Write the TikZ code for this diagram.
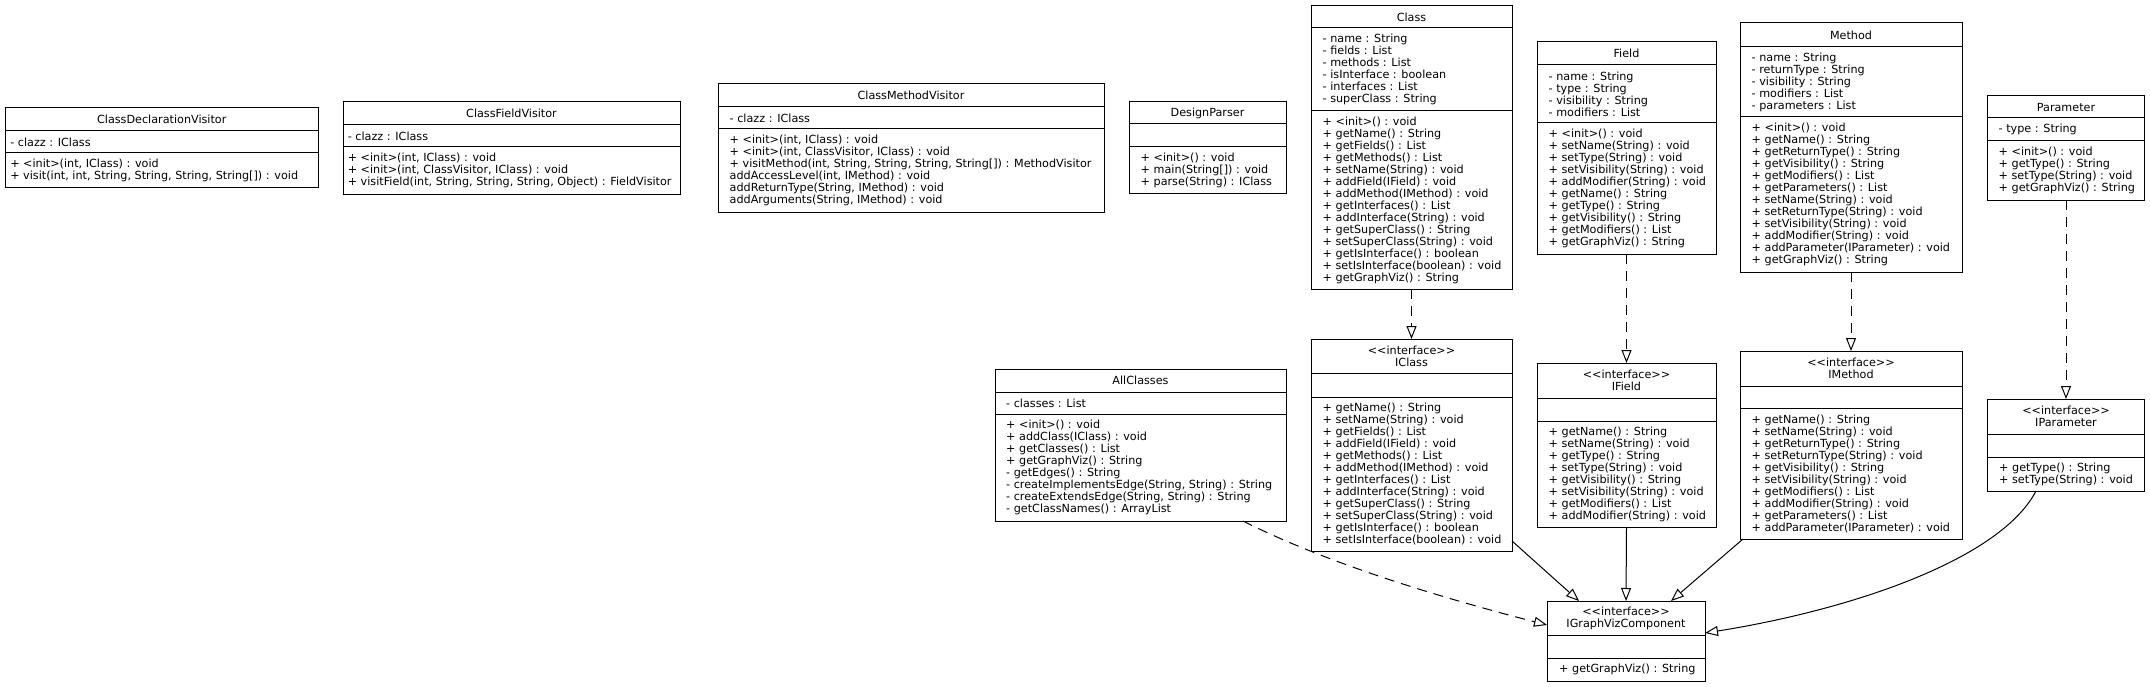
\documentclass[tikz,border=0pt]{standalone}
\usepackage{fontspec}
\setmainfont{DejaVu Sans}[Ligatures=TeXOff]
\usetikzlibrary{arrows.meta}
\newcommand\umlfont{\fontsize{11.2bp}{12bp}\selectfont}
\newcommand\lgl{<\kern0pt<}
\newcommand\rgl{>\kern0pt>}
\newcommand\stereo{\lgl interface\rgl}
% #1 name, #2 x1, #3 y1, #4 x2, #5 y2, #6 divider 1, #7 divider 2, #8 title
\newcommand\umlbox[8]{%
  \node[umlframe, anchor=north west, minimum width={(#4-#2)*1bp}, minimum height={(#5-#3)*1bp}] (#1) at (#2,#3) {};
  \draw[umlline] (#2,#6) -- (#4,#6);
  \draw[umlline] (#2,#7) -- (#4,#7);
  \node[umltitle] (#1-t) at ({(#2+#4)/2},{(#3+#6)/2}) {#8};
  \gdef\uname{#1}\gdef\ux{#2}\gdef\uda{#6}\gdef\udb{#7}\gdef\uy{#5}%
}
% #1 indent, #2 text
\newcommand\umlattr[2]{\node[umltext, anchor=west] (\uname-a) at ({\ux+#1},{(\uda+\udb)/2}) {#2};}
\newcommand\umlmeth[2]{\node[umltext, anchor=west] (\uname-m) at ({\ux+#1},{(\udb+\uy)/2}) {#2};}
\begin{document}
\begin{tikzpicture}[x=1bp, y=-1bp,
  umlframe/.style={draw, line width=1bp, inner sep=0pt, outer sep=0pt, fill=white},
  umlline/.style={line width=1bp},
  umltext/.style={inner sep=0pt, align=left, font=\umlfont},
  umltitle/.style={inner sep=0pt, align=center, font=\umlfont},
  opentip/.style={-{Triangle[open, length=13bp, width=10bp, fill=white, line width=1bp]}},
  realize/.style={opentip, line width=1bp, dash pattern=on 10bp off 7bp},
  general/.style={opentip, line width=1bp}]
\useasboundingbox (0,0) rectangle (2150,687);
\fill[white] (0,0) rectangle (2150,687);

% ---------- ClassDeclarationVisitor ----------
\umlbox{CDV}{5.5}{108}{318}{188}{131}{153}{ClassDeclarationVisitor}
\umlattr{4.6}{- clazz : IClass}
\umlmeth{4.6}{+ <init>(int, IClass) : void\\+ visit(int, int, String, String, String, String[]) : void}

% ---------- ClassFieldVisitor ----------
\umlbox{CFV}{343}{102}{680}{194}{125}{147}{ClassFieldVisitor}
\umlattr{4.6}{- clazz : IClass}
\umlmeth{4.6}{+ <init>(int, IClass) : void\\+ <init>(int, ClassVisitor, IClass) : void\\+ visitField(int, String, String, String, Object) : FieldVisitor}

% ---------- ClassMethodVisitor ----------
\umlbox{CMV}{718}{84}{1104}{212}{107}{129}{ClassMethodVisitor}
\umlattr{11.5}{- clazz : IClass}
\umlmeth{11.5}{+ <init>(int, IClass) : void\\+ <init>(int, ClassVisitor, IClass) : void\\+ visitMethod(int, String, String, String, String[]) : MethodVisitor\\addAccessLevel(int, IMethod) : void\\addReturnType(String, IMethod) : void\\addArguments(String, IMethod) : void}

% ---------- DesignParser ----------
\umlbox{DP}{1129}{102}{1286}{193}{124}{147}{DesignParser}
\umlmeth{11.5}{+ <init>() : void\\+ main(String[]) : void\\+ parse(String) : IClass}

% ---------- Class ----------
\umlbox{Cls}{1311}{6}{1512}{289}{28}{111}{Class}
\umlattr{11.5}{- name : String\\- fields : List\\- methods : List\\- isInterface : boolean\\- interfaces : List\\- superClass : String}
\umlmeth{11.5}{+ <init>() : void\\+ getName() : String\\+ getFields() : List\\+ getMethods() : List\\+ setName(String) : void\\+ addField(IField) : void\\+ addMethod(IMethod) : void\\+ getInterfaces() : List\\+ addInterface(String) : void\\+ getSuperClass() : String\\+ setSuperClass(String) : void\\+ getIsInterface() : boolean\\+ setIsInterface(boolean) : void\\+ getGraphViz() : String}

% ---------- Field ----------
\umlbox{Fld}{1537}{42}{1716}{254}{65}{123}{Field}
\umlattr{11.5}{- name : String\\- type : String\\- visibility : String\\- modifiers : List}
\umlmeth{11.5}{+ <init>() : void\\+ setName(String) : void\\+ setType(String) : void\\+ setVisibility(String) : void\\+ addModifier(String) : void\\+ getName() : String\\+ getType() : String\\+ getVisibility() : String\\+ getModifiers() : List\\+ getGraphViz() : String}

% ---------- Method ----------
\umlbox{Mth}{1740}{23}{1962}{272}{47}{117}{Method}
\umlattr{11.5}{- name : String\\- returnType : String\\- visibility : String\\- modifiers : List\\- parameters : List}
\umlmeth{11.5}{+ <init>() : void\\+ getName() : String\\+ getReturnType() : String\\+ getVisibility() : String\\+ getModifiers() : List\\+ getParameters() : List\\+ setName(String) : void\\+ setReturnType(String) : void\\+ setVisibility(String) : void\\+ addModifier(String) : void\\+ addParameter(IParameter) : void\\+ getGraphViz() : String}

% ---------- Parameter ----------
\umlbox{Par}{1987.5}{96}{2144.5}{200}{118}{141}{Parameter}
\umlattr{11}{- type : String}
\umlmeth{11}{+ <init>() : void\\+ getType() : String\\+ setType(String) : void\\+ getGraphViz() : String}

% ---------- AllClasses ----------
\umlbox{All}{995}{369}{1286}{521}{392}{414}{AllClasses}
\umlattr{11}{- classes : List}
\umlmeth{11}{+ <init>() : void\\+ addClass(IClass) : void\\+ getClasses() : List\\+ getGraphViz() : String\\- getEdges() : String\\- createImplementsEdge(String, String) : String\\- createExtendsEdge(String, String) : String\\- getClassNames() : ArrayList}

% ---------- IClass ----------
\umlbox{ICls}{1311}{339}{1512}{551}{373}{397}{\stereo\\IClass}
\umlmeth{11.5}{+ getName() : String\\+ setName(String) : void\\+ getFields() : List\\+ addField(IField) : void\\+ getMethods() : List\\+ addMethod(IMethod) : void\\+ getInterfaces() : List\\+ addInterface(String) : void\\+ getSuperClass() : String\\+ setSuperClass(String) : void\\+ getIsInterface() : boolean\\+ setIsInterface(boolean) : void}

% ---------- IField ----------
\umlbox{IFld}{1537}{363}{1716}{527}{398}{421}{\stereo\\IField}
\umlmeth{11.5}{+ getName() : String\\+ setName(String) : void\\+ getType() : String\\+ setType(String) : void\\+ getVisibility() : String\\+ setVisibility(String) : void\\+ getModifiers() : List\\+ addModifier(String) : void}

% ---------- IMethod ----------
\umlbox{IMth}{1740}{351}{1962}{539}{386}{408}{\stereo\\IMethod}
\umlmeth{11.5}{+ getName() : String\\+ setName(String) : void\\+ getReturnType() : String\\+ setReturnType(String) : void\\+ getVisibility() : String\\+ setVisibility(String) : void\\+ getModifiers() : List\\+ addModifier(String) : void\\+ getParameters() : List\\+ addParameter(IParameter) : void}

% ---------- IParameter ----------
\umlbox{IPar}{1987.5}{399}{2144.5}{491}{434}{457}{\stereo\\IParameter}
\umlmeth{11.5}{+ getType() : String\\+ setType(String) : void}

% ---------- IGraphVizComponent ----------
\umlbox{IGV}{1547}{601}{1705}{681}{635}{658}{\stereo\\IGraphVizComponent}
\umlmeth{12}{+ getGraphViz() : String}

% ---------- connectors ----------
\draw[realize] (Cls.south) -- (ICls.north);
\draw[realize] (Fld.south) -- (IFld.north);
\draw[realize] (Mth.south) -- (IMth.north);
\draw[realize] (Par.south) -- (IPar.north);
\draw[realize] ([xshift=102.5bp]All.south) .. controls (1330,565) and (1450,600) .. ([yshift=16bp]IGV.west);
\draw[general] ([yshift=-96bp]ICls.east) -- ([xshift=-47bp]IGV.north);
\draw[general] (IFld.south) -- (IGV.north);
\draw[general] ([xshift=3bp]IMth.south west) -- ([xshift=45bp]IGV.north);
\draw[general] ([xshift=-30bp]IPar.south) .. controls (2000,560) and (1850,610) .. ([yshift=8bp]IGV.east);
\end{tikzpicture}
\end{document}
